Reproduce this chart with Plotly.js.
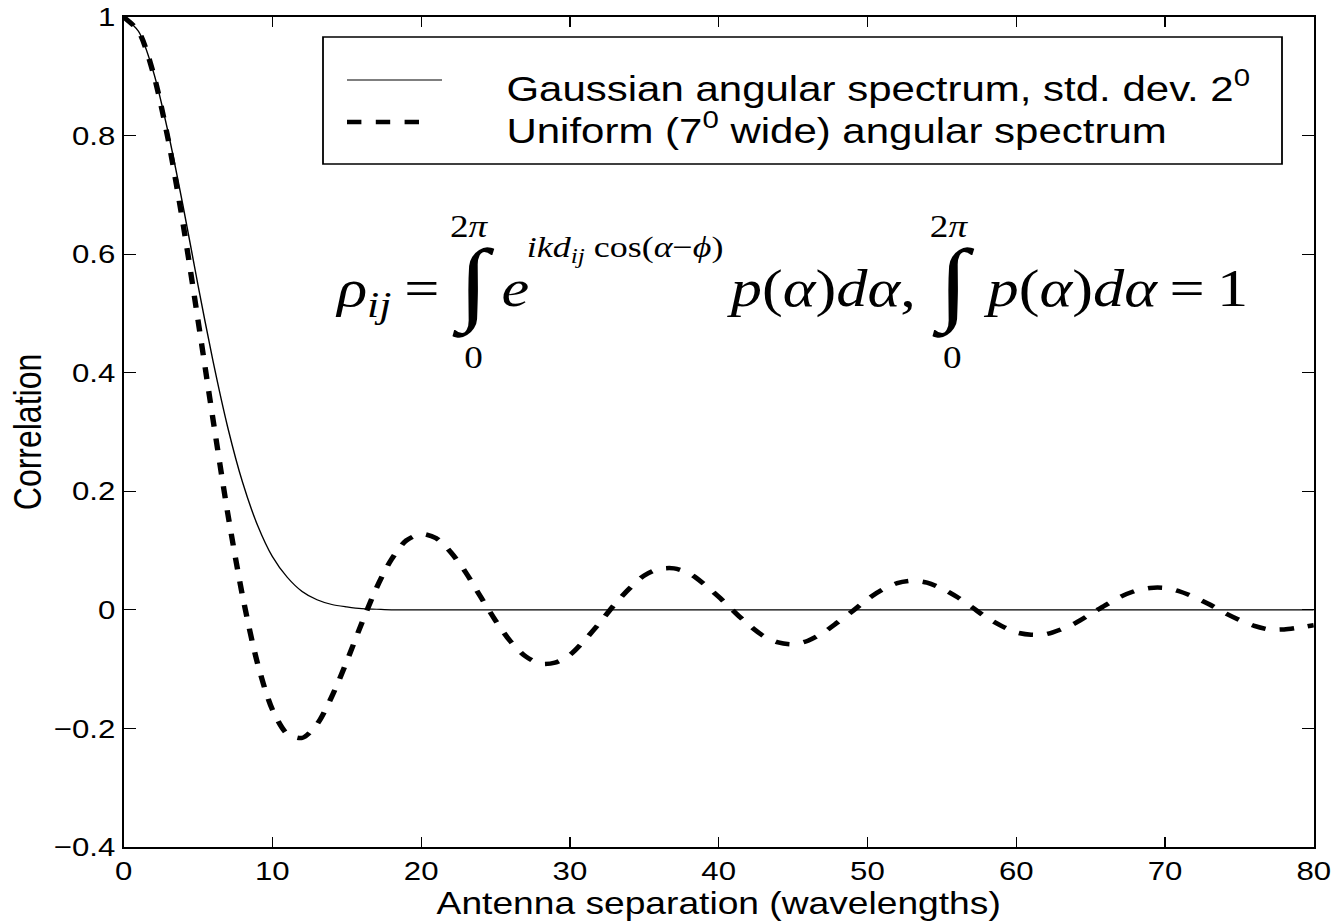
<!DOCTYPE html>
<html><head><meta charset="utf-8">
<script src="https://cdn.plot.ly/plotly-3.0.1.min.js"></script>
<style>
html,body{margin:0;padding:0;background:#fff;overflow:hidden;}
#wrap{width:1333px;height:923px;overflow:hidden;}
#plot{width:1111px;height:923px;transform:scaleX(1.19982);transform-origin:0 0;}
</style></head><body><div id="wrap"><div id="plot"></div></div>
<script>
// ---- data ----
const separation = [0,1,2,3,4,5,6,7,8,9,10,11,12,13,14,15,16,17,18,19,20,21,22,23,24,25,26,27,28,29,30,31,32,33,34,35,36,37,38,39,40,41,42,43,44,45,46,47,48,49,50,51,52,53,54,55,56,57,58,59,60,61,62,63,64,65,66,67,68,69,70,71,72,73,74,75,76,77,78,79,80];
const gaussianCorr = [1.000,0.976,0.908,0.805,0.681,0.548,0.421,0.308,0.215,0.143,0.090,0.055,0.031,0.017,0.009,0.005,0.002,0.001,0.000,0.000,0.000,0,0,0,0,0,0,0,0,0,0,0,0,0,0,0,0,0,0,0,0,0,0,0,0,0,0,0,0,0,0,0,0,0,0,0,0,0,0,0,0,0,0,0,0,0,0,0,0,0,0,0,0,0,0,0,0,0,0,0,0];
const uniformCorr = [1.000,0.976,0.905,0.793,0.651,0.489,0.323,0.163,0.023,-0.090,-0.168,-0.209,-0.216,-0.193,-0.146,-0.087,-0.023,0.037,0.085,0.117,0.128,0.121,0.097,0.063,0.022,-0.018,-0.053,-0.078,-0.091,-0.089,-0.076,-0.051,-0.022,0.009,0.036,0.058,0.069,0.070,0.062,0.044,0.022,-0.002,-0.025,-0.044,-0.055,-0.058,-0.052,-0.039,-0.021,-0.002,0.018,0.034,0.045,0.049,0.046,0.036,0.022,0.005,-0.013,-0.027,-0.038,-0.042,-0.041,-0.033,-0.022,-0.007,0.008,0.022,0.032,0.037,0.037,0.031,0.021,0.009,-0.005,-0.017,-0.027,-0.033,-0.033,-0.030,-0.026];
const seriesNames = ['Gaussian angular spectrum, std. dev. 2<sup>0</sup>', 'Uniform (7<sup>0</sup> wide) angular spectrum'];
const xTickVals = [0,10,20,30,40,50,60,70,80];
const xTickText = ['0','10','20','30','40','50','60','70','80'];
const yTickVals = [-0.4,-0.2,0,0.2,0.4,0.6,0.8,1];
const yTickText = ['\u22120.4','\u22120.2','0','0.2','0.4','0.6','0.8','1'];
const xTitle = 'Antenna separation (wavelengths)';
const yTitle = 'Correlation';

// ---- layout helpers (reference pixel -> paper coords) ----
const S = 1333/1111;
const L = 103, T = 17, PW = 992, PH = 830;
function px(xo){ return (xo/S - L)/PW; }
function py(yo){ return (T + PH - yo)/PH; }
const DASH = '12px,12px';

function txt(text, xo, yo, size, family, yanchor){
  return {xref:'paper', yref:'paper', x:px(xo), y:py(yo), xanchor:'left', yanchor:yanchor||'top',
    text:text, showarrow:false, borderpad:0, font:{family:family||'Liberation Serif', size:size, color:'#000'}};
}

const traces = [
  {x:separation, y:gaussianCorr, type:'scatter', mode:'lines', name:seriesNames[0],
   line:{color:'#000', width:1.2, shape:'spline', smoothing:0.8}, showlegend:false, hoverinfo:'skip'},
  {x:separation, y:uniformCorr, type:'scatter', mode:'lines', name:seriesNames[1],
   line:{color:'#000', width:4.5, dash:DASH, shape:'spline', smoothing:0.8}, showlegend:false, hoverinfo:'skip'}
];

const MF = 52; // main equation font
const eqTop = 305 - 0.891*MF;
const IF = 92; // integral sign font
const LF = 31; // limits font
const annotations = [
  // legend text
  txt(seriesNames[0], 505, 86, 35, 'Liberation Sans', 'middle'),
  txt(seriesNames[1], 505, 128, 35, 'Liberation Sans', 'middle'),
  // equation
  txt('<i>\u03c1</i><sub><i>ij</i></sub>', 333, eqTop, MF),
  txt('=', 403, eqTop, MF),
  txt('\u222b', 451, 284, IF, 'Liberation Serif', 'middle'),
  txt('2<i>\u03c0</i>', 449, 236-0.891*LF, LF),
  txt('0', 463, 367-0.891*LF, LF),
  txt('<i>e</i>', 500, eqTop, MF),
  txt('<i>ikd</i><sub><i>ij</i></sub> cos(<i>\u03b1</i>\u2212<i>\u03d5</i>)', 526, 256-0.891*30, 30),
  txt('<i>p</i>(<i>\u03b1</i>)<i>d\u03b1</i>,', 725, eqTop, MF),
  txt('\u222b', 931, 284, IF, 'Liberation Serif', 'middle'),
  txt('2<i>\u03c0</i>', 929, 236-0.891*LF, LF),
  txt('0', 942, 367-0.891*LF, LF),
  txt('<i>p</i>(<i>\u03b1</i>)<i>d\u03b1</i>\u2009=\u20091', 982, eqTop, MF)
];

const shapes = [
  {type:'rect', xref:'paper', yref:'paper', x0:px(323), x1:px(1282), y0:py(37), y1:py(164),
   line:{color:'#000', width:1.5}, fillcolor:'rgba(255,255,255,1)', layer:'below'},
  {type:'line', xref:'paper', yref:'paper', x0:px(347), x1:px(442), y0:py(80), y1:py(80),
   line:{color:'#000', width:1.2}},
  {type:'line', xref:'paper', yref:'paper', x0:px(347), x1:px(428), y0:py(122), y1:py(122),
   line:{color:'#000', width:4.5, dash:DASH}}
];

const axisCommon = {showline:true, linecolor:'#000', linewidth:1.7, mirror:'ticks', ticks:'inside',
  ticklen:10, tickwidth:1, tickcolor:'#000', showgrid:false, zeroline:false,
  tickfont:{family:'Liberation Sans', size:26, color:'#000'}, fixedrange:true};

const layout = {
  width:1111, height:923, autosize:false,
  margin:{l:L, r:1111-L-PW, t:T, b:923-T-PH, pad:0},
  paper_bgcolor:'#fff', plot_bgcolor:'#fff', showlegend:false,
  font:{family:'Liberation Sans', color:'#000'},
  xaxis:Object.assign({}, axisCommon, {range:[0,80], tickmode:'array', tickvals:xTickVals, ticktext:xTickText,
    ticklabelstandoff:0,
    title:{text:xTitle, font:{family:'Liberation Sans', size:31, color:'#000'}, standoff:2}}),
  yaxis:Object.assign({}, axisCommon, {range:[-0.4,1], tickmode:'array', tickvals:yTickVals, ticktext:yTickText,
    ticklabelstandoff:0,
    title:{text:yTitle, font:{family:'Liberation Sans', size:32, color:'#000'}, standoff:0}}),
  shapes:shapes, annotations:annotations
};

Plotly.newPlot('plot', traces, layout, {staticPlot:true, displayModeBar:false});
</script></body></html>
